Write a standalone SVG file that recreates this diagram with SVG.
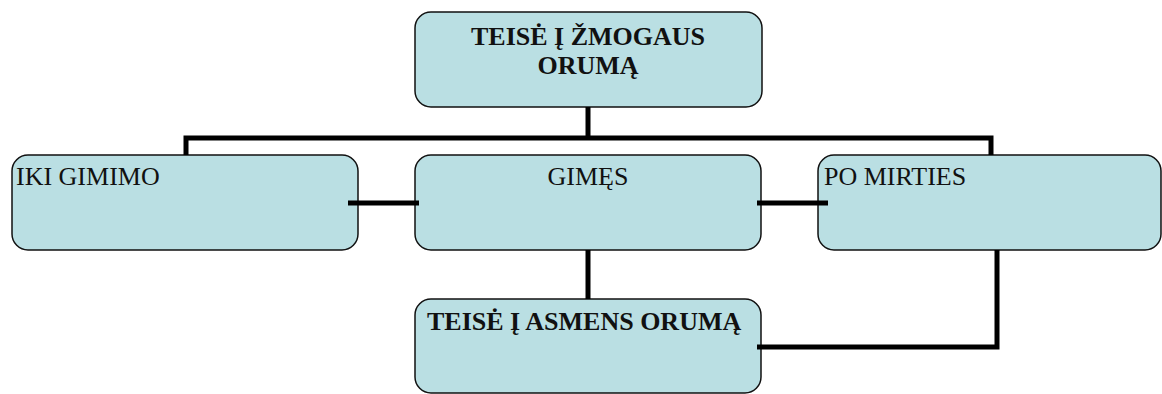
<svg xmlns="http://www.w3.org/2000/svg" width="1162" height="394" viewBox="0 0 1162 394">
<style>
.box{fill:#BADFE3;stroke:#111;stroke-width:1.5}
.t{font-family:"Liberation Serif","Times New Roman",serif;font-size:26px;fill:#111}
.b{font-weight:bold}
.c{fill:none;stroke:#000;stroke-width:5}
</style>
<rect width="1162" height="394" fill="#fff"/>
<g id="top">
<rect class="box" x="415" y="12" width="347" height="95" rx="16"/>
<text class="t b" x="588" y="45" text-anchor="middle">TEISĖ Į ŽMOGAUS</text>
<text class="t b" x="588" y="74" text-anchor="middle">ORUMĄ</text>
</g>
<g id="iki">
<rect class="box" x="12" y="155" width="346" height="95" rx="16"/>
<text class="t" x="16" y="185">IKI GIMIMO</text>
</g>
<g id="gimes">
<rect class="box" x="415" y="155" width="346" height="95" rx="16"/>
<text class="t" x="588" y="185" text-anchor="middle">GIMĘS</text>
</g>
<g id="po">
<rect class="box" x="818" y="155" width="343" height="95" rx="16"/>
<text class="t" x="824" y="185">PO MIRTIES</text>
</g>
<g id="asmens">
<rect class="box" x="415" y="299" width="346" height="94" rx="16"/>
<text class="t b" x="427" y="330">TEISĖ Į ASMENS ORUMĄ</text>
</g>
<g id="connectors">
<path class="c" d="M588 107V138"/>
<path class="c" d="M186 155V138H991V155"/>
<path class="c" d="M588 250V299"/>
<path class="c" d="M348 203H419"/>
<path class="c" d="M757 203H828"/>
<path class="c" d="M757 347H997V250"/>
</g>
</svg>
